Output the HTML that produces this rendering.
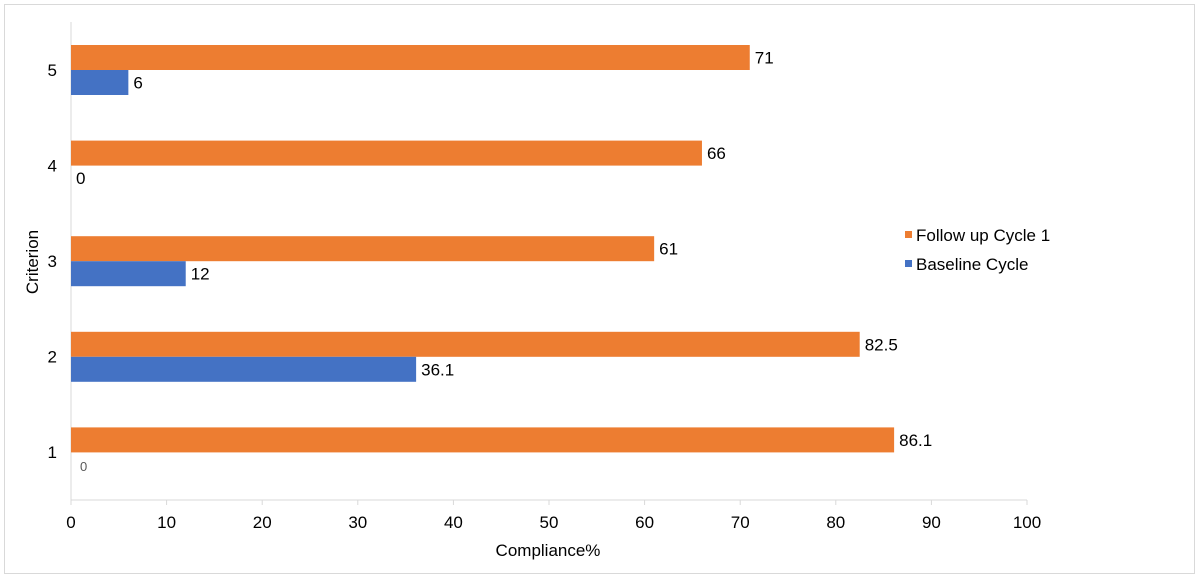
<!DOCTYPE html>
<html><head><meta charset="utf-8"><style>
body{margin:0;background:#fff;}
svg{display:block;font-family:"Liberation Sans",Arial,sans-serif;}
</style></head><body>
<svg id="c" width="1200" height="578">
<rect x="4.5" y="4.5" width="1190" height="569" fill="#fff" stroke="#d9d9d9"/>
<g id="plot"></g>
<text x="548" y="556" font-size="17" text-anchor="middle" fill="#000">Compliance%</text>
<text transform="translate(38,262) rotate(-90)" font-size="17" text-anchor="middle" fill="#000">Criterion</text>
<g>
<rect x="905" y="231" width="7" height="7" fill="#ed7d31"/>
<text x="916" y="241" font-size="17">Follow up Cycle 1</text>
<rect x="905" y="260" width="7" height="7" fill="#4472c4"/>
<text x="916" y="270" font-size="17">Baseline Cycle</text>
</g>
</svg>
<script>
const categories=["1","2","3","4","5"];
const followUp=[86.1,82.5,61,66,71];
const baseline=[0,36.1,12,0,6];
const ticks=[0,10,20,30,40,50,60,70,80,90,100];
const NS="http://www.w3.org/2000/svg";
const g=document.getElementById('plot');
const x0=71,x1=1027,yTop=22,yBottom=500;
const xs=v=>x0+(x1-x0)*v/100;
const band=(yBottom-yTop)/categories.length;
const bandTop=i=>yBottom-(i+1)*band;
function mk(t,a){const e=document.createElementNS(NS,t);for(const k in a)e.setAttribute(k,a[k]);g.appendChild(e);return e;}
let ax=mk('line',{x1:x0,y1:yTop,x2:x0,y2:yBottom,stroke:'#d9d9d9'});


let bx=mk('line',{x1:x0,y1:yBottom,x2:x1,y2:yBottom,stroke:'#d9d9d9'});


ticks.forEach(t=>{
 let l=mk('line',{x1:xs(t),y1:yBottom,x2:xs(t),y2:yBottom+5,stroke:'#d9d9d9'});
 
 
 let tx=mk('text',{x:xs(t),y:yBottom+28,'font-size':17,'text-anchor':'middle'});
 tx.textContent=t;
 
 
});
categories.forEach((c,i)=>{
 const bt=bandTop(i);
 let cl=mk('text',{x:57,y:bt+band/2+6,'font-size':17,'text-anchor':'end'});
 cl.textContent=c;
 
 
 const yo=bt+23,yb=bt+48,h=25;
 let r=mk('rect',{x:x0,y:yo,width:xs(followUp[i])-x0,height:h,fill:'#ed7d31'});
 
 
 let lt=mk('text',{x:xs(followUp[i])+5,y:yo+h/2+6,'font-size':17});
 lt.textContent=followUp[i];
 
 
 let rb=mk('rect',{x:x0,y:yb,width:xs(baseline[i])-x0,height:h,fill:'#4472c4'});
 
 
 let small=(c==="1");
 let lb=mk('text',{x:xs(baseline[i])+(small?9:5),y:yb+h/2+6,'font-size':small?13:17,fill:small?'#595959':'#000'});
 lb.textContent=baseline[i];
 
 
});
</script>
</body></html>
